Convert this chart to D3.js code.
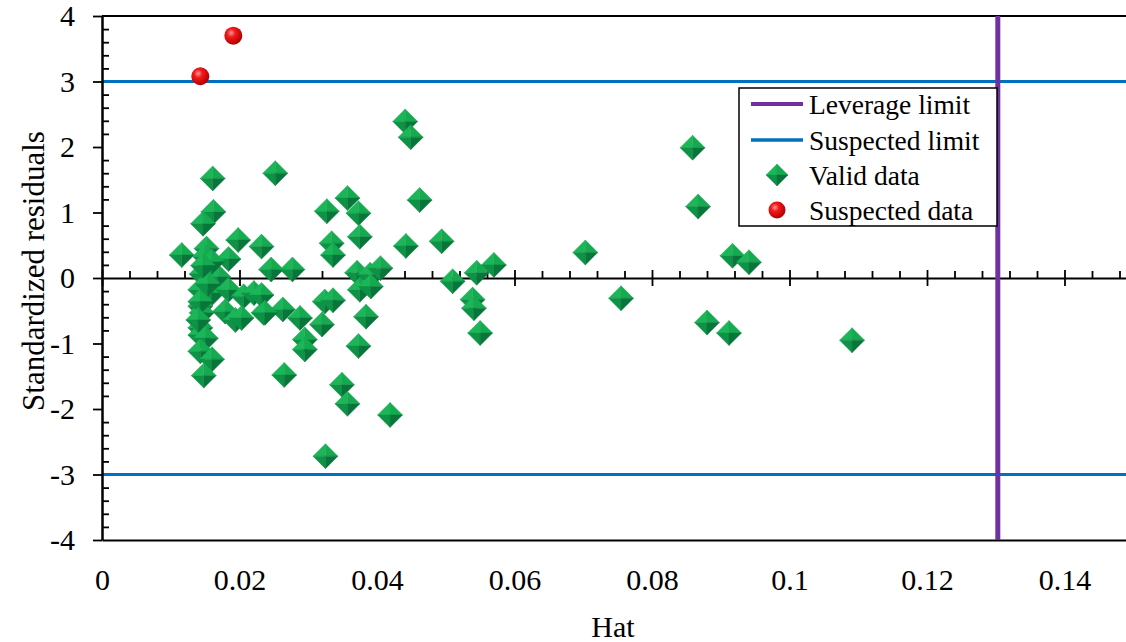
<!DOCTYPE html>
<html>
<head>
<meta charset="utf-8">
<script src="https://cdn.jsdelivr.net/npm/d3@7"></script>
<style>
  body { margin: 0; background: #fff; }
  svg text { font-family: "Times New Roman", "Liberation Serif", Tinos, serif; fill: #000; }
</style>
</head>
<body>
<div id="chart"></div>
<script>
// hat values and standardized residuals
const validHat = [0.0161, 0.0252, 0.0162, 0.0147, 0.0116, 0.0198, 0.0232, 0.0152, 0.0150, 0.0184,
  0.0246, 0.0277, 0.0145, 0.0169, 0.0160, 0.0143, 0.0184, 0.0206, 0.0221, 0.0143,
  0.0145, 0.0179, 0.0194, 0.0203, 0.0235, 0.0263, 0.0288, 0.0143, 0.0143, 0.0151,
  0.0143, 0.0160, 0.0148, 0.0265, 0.0295, 0.0295, 0.0143, 0.0140, 0.0154, 0.0160,
  0.0147, 0.0327, 0.0357, 0.0373, 0.0375, 0.0334, 0.0336, 0.0462, 0.0442, 0.0494,
  0.0371, 0.0390, 0.0405, 0.0375, 0.0391, 0.0510, 0.0232, 0.0237, 0.0324, 0.0336,
  0.0320, 0.0384, 0.0373, 0.0349, 0.0357, 0.0419, 0.0325, 0.0441, 0.0449, 0.0545,
  0.0570, 0.0539, 0.0541, 0.0550, 0.0703, 0.0755, 0.0859, 0.0867, 0.0917, 0.0941,
  0.0880, 0.0912, 0.1091];
const validResid = [1.52, 1.60, 1.01, 0.83, 0.35, 0.58, 0.48, 0.45, 0.33, 0.29,
  0.13, 0.13, 0.06, 0.02, -0.23, -0.18, -0.18, -0.28, -0.23, -0.43,
  -0.53, -0.51, -0.64, -0.61, -0.53, -0.48, -0.61, -0.76, -0.87, -0.92,
  -1.12, -1.24, -1.49, -1.48, -0.94, -1.09, -0.36, -0.64, -0.09, 0.25,
  0.19, 1.02, 1.22, 0.99, 0.63, 0.53, 0.35, 1.19, 0.49, 0.56,
  0.08, 0.05, 0.15, -0.18, -0.13, -0.05, -0.26, -0.53, -0.36, -0.34,
  -0.71, -0.59, -1.04, -1.63, -1.92, -2.09, -2.72, 2.39, 2.15, 0.08,
  0.20, -0.33, -0.46, -0.84, 0.39, -0.31, 1.99, 1.09, 0.34, 0.24,
  -0.68, -0.84, -0.95];
const suspectHat = [0.0143, 0.0191];
const suspectResid = [3.08, 3.70];

const leverageLimit = 0.1303;
const suspectLimits = [3, -3];

const xTicks = [0, 0.02, 0.04, 0.06, 0.08, 0.1, 0.12, 0.14];
const yTicks = [-4, -3, -2, -1, 0, 1, 2, 3, 4];
const legendLabels = ["Leverage limit", "Suspected limit", "Valid data", "Suspected data"];

const width = 1126, height = 642;
const margin = {top: 16, left: 102, bottom: 540};
const serif = '"Times New Roman", "Liberation Serif", Tinos, serif';

const svg = d3.select("#chart").append("svg")
  .attr("width", width).attr("height", height)
  .attr("viewBox", [0, 0, width, height]);

const x = d3.scaleLinear([0, 0.15], [margin.left, margin.left + 0.15 * 6875]);
const y = d3.scaleLinear([-4, 4], [margin.bottom, margin.top]);

// gradient for the red balls
const defs = svg.append("defs");
const rg = defs.append("radialGradient").attr("id", "ball")
  .attr("cx", "0.38").attr("cy", "0.35").attr("r", "0.65");
rg.append("stop").attr("offset", "0%").attr("stop-color", "#ff9a9a");
rg.append("stop").attr("offset", "35%").attr("stop-color", "#f41a1a");
rg.append("stop").attr("offset", "100%").attr("stop-color", "#b00000");

// top frame line
svg.append("line")
  .attr("x1", margin.left).attr("x2", width)
  .attr("y1", margin.top).attr("y2", margin.top)
  .attr("stroke", "#000").attr("stroke-width", 2);

// suspected limit lines
svg.append("g").selectAll("line")
  .data(suspectLimits)
  .join("line")
  .attr("x1", margin.left).attr("x2", width)
  .attr("y1", d => y(d)).attr("y2", d => y(d))
  .attr("stroke", "#0070C0").attr("stroke-width", 3.2);

// bottom axis (labels only)
const bottom = svg.append("g")
  .attr("transform", `translate(0,${margin.bottom})`)
  .call(d3.axisBottom(x).tickValues(xTicks).tickSize(0).tickSizeOuter(0).tickPadding(29)
    .tickFormat(d => String(+d.toFixed(2))));
bottom.attr("font-family", serif);
bottom.select(".domain").attr("stroke-width", 2);
bottom.selectAll("text").style("font-size", "30px");

// x ticks on the zero line
const zero = svg.append("g").attr("transform", `translate(0,${y(0)})`);
const minorX = d3.range(0, 0.1501, 0.004).filter(v => Math.abs(v / 0.02 - Math.round(v / 0.02)) > 1e-6);
zero.append("g")
  .call(d3.axisBottom(x).tickValues(xTicks).tickSize(8).tickSizeOuter(0).tickFormat(""))
  .call(g => g.select(".domain").attr("stroke-width", 2));
zero.append("g")
  .call(d3.axisTop(x).tickValues(xTicks).tickSize(8).tickSizeOuter(0).tickFormat(""))
  .call(g => g.select(".domain").remove());
zero.append("g")
  .call(d3.axisTop(x).tickValues(minorX).tickSize(7).tickSizeOuter(0).tickFormat(""))
  .call(g => g.select(".domain").remove());
zero.selectAll(".tick line").attr("stroke-width", 1.8);

// y axis
const yAxis = svg.append("g")
  .attr("transform", `translate(${margin.left},0)`)
  .call(d3.axisLeft(y).tickValues(yTicks).tickSize(9).tickSizeOuter(0).tickPadding(18)
    .tickFormat(d => String(d)));
yAxis.attr("font-family", serif);
yAxis.select(".domain").attr("stroke-width", 2.5);
yAxis.selectAll(".tick line").attr("stroke-width", 1.8);
yAxis.selectAll("text").style("font-size", "30px");

const minorY = d3.range(-40, 41, 2).filter(v => v % 10 !== 0).map(v => v / 10);
svg.append("g")
  .attr("transform", `translate(${margin.left},0)`)
  .call(d3.axisRight(y).tickValues(minorY).tickSize(7).tickFormat(""))
  .call(g => g.select(".domain").remove())
  .call(g => g.selectAll(".tick line").attr("stroke-width", 1.8));

// leverage limit
svg.append("line")
  .attr("x1", x(leverageLimit)).attr("x2", x(leverageLimit))
  .attr("y1", y(4)).attr("y2", y(-4))
  .attr("stroke", "#7030A0").attr("stroke-width", 5);

// diamond marker made of four shaded faces
function diamond(g, s) {
  const faces = [
    {d: `M0,0L${-s},0L0,${-s}Z`, c: "#1cb558"},
    {d: `M0,0L0,${-s}L${s},0Z`, c: "#15a950"},
    {d: `M0,0L${-s},0L0,${s}Z`, c: "#0e9245"},
    {d: `M0,0L0,${s}L${s},0Z`, c: "#08763a"}
  ];
  g.selectAll("path").data(faces).join("path")
    .attr("d", f => f.d).attr("fill", f => f.c)
    .attr("stroke", f => f.c).attr("stroke-width", 0.4);
}

const validData = validHat.map((h, i) => ({h, r: validResid[i]}));
svg.append("g").selectAll("g")
  .data(validData)
  .join("g")
  .attr("transform", d => `translate(${x(d.h)},${y(d.r)})`)
  .each(function() { diamond(d3.select(this), 12.5); });

const suspectData = suspectHat.map((h, i) => ({h, r: suspectResid[i]}));
svg.append("g").selectAll("circle")
  .data(suspectData)
  .join("circle")
  .attr("cx", d => x(d.h)).attr("cy", d => y(d.r))
  .attr("r", 9).attr("fill", "url(#ball)");

// axis titles
svg.append("text")
  .attr("transform", "translate(44,271) rotate(-90)")
  .attr("text-anchor", "middle")
  .style("font-size", "31px")
  .text("Standardized residuals");

svg.append("text")
  .attr("x", 613).attr("y", 637)
  .attr("text-anchor", "middle")
  .style("font-size", "30px")
  .text("Hat");

// legend
const legend = svg.append("g").attr("transform", "translate(739,88)");
legend.append("rect")
  .attr("width", 258).attr("height", 138)
  .attr("fill", "#fff").attr("stroke", "#000").attr("stroke-width", 1.5);

const rowY = [16, 52, 87, 122];
const items = legend.selectAll(".legend-item")
  .data(legendLabels)
  .join("g")
  .attr("class", "legend-item")
  .attr("transform", (d, i) => `translate(0,${rowY[i]})`);

items.append("text")
  .attr("x", 70).attr("y", 10)
  .style("font-size", "27.5px")
  .text(d => d);

items.filter((d, i) => i < 2).append("line")
  .attr("x1", 12).attr("x2", 64)
  .attr("stroke", (d, i) => i === 0 ? "#7030A0" : "#0070C0")
  .attr("stroke-width", (d, i) => i === 0 ? 4 : 3.5);

items.filter((d, i) => i === 2).append("g")
  .attr("transform", "translate(38,0)")
  .each(function() { diamond(d3.select(this), 11); });

items.filter((d, i) => i === 3).append("circle")
  .attr("cx", 38).attr("r", 8.5).attr("fill", "url(#ball)");
</script>
</body>
</html>
